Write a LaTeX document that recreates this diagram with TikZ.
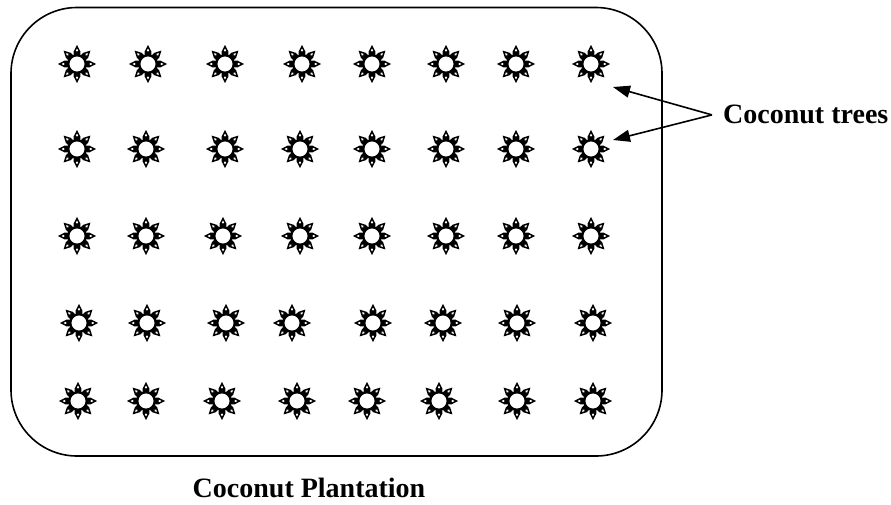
\documentclass[tikz,border=0pt]{standalone}
\usepackage{fontspec}
\setmainfont{Liberation Serif}
\usetikzlibrary{arrows.meta}
\tikzset{
  tree/.pic={
    \foreach \a in {0,45,...,315}{
      \fill[black] (\a-22:9) -- (\a-15:13) -- (\a:19) -- (\a+15:13) -- (\a+22:9) -- cycle;
      \fill[white] (\a:12.3) -- (\a-5:13.5) -- (\a:15.3) -- (\a+5:13.5) -- cycle;
    }
    \draw[line width=2pt, fill=white] (0,0) circle (8.6);
    \coordinate (-c) at (0,0);
  },
  lbl/.style={font=\bfseries\fontsize{28}{32}\selectfont, inner sep=0pt},
  arr/.style={line width=1.6pt, -{Triangle[length=17pt,width=12pt]}},
  field/.style={line width=1.6pt, rounded corners=66pt}
}
\begin{document}
\begin{tikzpicture}[x=1pt,y=-1pt]
\useasboundingbox (0,0) rectangle (891,504);
\draw[field] (11,7.5) rectangle (662,456);
% rows of trees
\foreach \x [count=\i] in {77,148,225,302,372,446,516,591}
  \pic (r1t\i) at (\x,64) {tree};
\foreach \x [count=\i] in {77,146,225,300,372,446,516,591}
  \pic (r2t\i) at (\x,149) {tree};
\foreach \x [count=\i] in {77,146,223,300,372,446,516,591}
  \pic (r3t\i) at (\x,236) {tree};
\foreach \x [count=\i] in {79,147,226,292,373,443,517,593}
  \pic (r4t\i) at (\x,323) {tree};
\foreach \x [count=\i] in {78,146,222,297,367,439,517,593}
  \pic (r5t\i) at (\x,401) {tree};
% labels
\node[lbl, anchor=base west] (trees) at (723,123) {Coconut trees};
\node[lbl, anchor=base] (plant) at (309,497) {Coconut Plantation};
\coordinate (h1) at (613,87);
\coordinate (h2) at (613,140);
\draw[arr] ([xshift=-11pt,yshift=-1pt]trees.west) -- (h1);
\draw[arr] ([xshift=-11pt,yshift=-1pt]trees.west) -- (h2);
\end{tikzpicture}
\end{document}
